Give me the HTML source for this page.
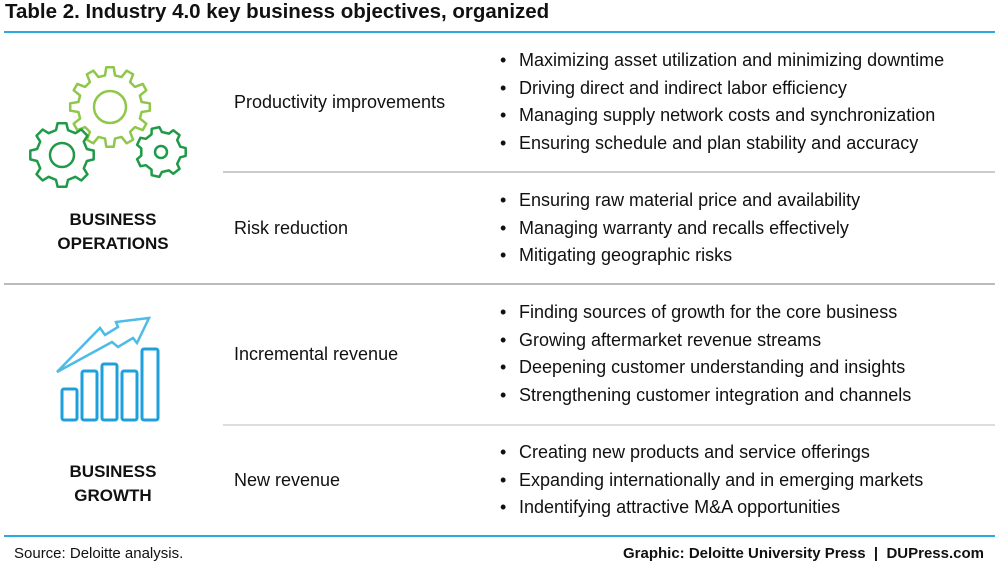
<!DOCTYPE html>
<html><head><meta charset="utf-8"><style>
body{margin:0;width:1000px;height:573px;background:#fff;font-family:"Liberation Sans",sans-serif;color:#111;position:relative;overflow:hidden}
.t{position:absolute;white-space:nowrap}
.title{left:5px;top:0px;font-size:20.5px;font-weight:bold}
.ln{position:absolute;height:2px}
.lab{font-size:18px}
.cat{font-size:17px;text-align:center;width:200px;left:13px;line-height:24px;font-weight:bold}
ul{position:absolute;left:500px;margin:0;padding:0;list-style:none;font-size:18px;line-height:27.5px}
li:before{content:"•";display:inline-block;width:19px}
.foot{font-size:15px;top:545px}
</style></head><body>
<div class="t title">Table 2. Industry 4.0 key business objectives, organized</div>
<div class="ln" style="left:4px;width:991px;top:31px;background:#2aa8e0"></div>
<div class="ln" style="left:223px;width:772px;top:171px;background:#ccc"></div>
<div class="ln" style="left:4px;width:991px;top:283px;background:#bbb"></div>
<div class="ln" style="left:223px;width:772px;top:424px;background:#ddd"></div>
<div class="ln" style="left:4px;width:991px;top:535px;background:#2aa8e0"></div>

<svg id="gears" style="position:absolute;left:0;top:0" width="230" height="200"></svg>
<svg style="position:absolute;left:0;top:290" width="230" height="140">
<polygon points="57,82 100,38 105,45 118,37 116,32 149,28 137,53 133,48 118,57 112,52" fill="none" stroke="#4dbbe8" stroke-width="2.5" stroke-linejoin="miter"/>
<g fill="none" stroke="#1ea0dc" stroke-width="3">
<rect x="62" y="99" width="15" height="31" rx="2"/><rect x="82" y="81" width="15" height="49" rx="2"/><rect x="102" y="74" width="15" height="56" rx="2"/><rect x="122" y="81" width="15" height="49" rx="2"/><rect x="142" y="59" width="16" height="71" rx="2"/></g></svg>

<div class="t cat" style="top:208px">BUSINESS<br>OPERATIONS</div>
<div class="t cat" style="top:460px">BUSINESS<br>GROWTH</div>

<div class="t lab" style="left:234px;top:92px">Productivity improvements</div>
<div class="t lab" style="left:234px;top:218px">Risk reduction</div>
<div class="t lab" style="left:234px;top:344px">Incremental revenue</div>
<div class="t lab" style="left:234px;top:470px">New revenue</div>

<ul style="top:47px"><li>Maximizing asset utilization and minimizing downtime</li><li>Driving direct and indirect labor efficiency</li><li>Managing supply network costs and synchronization</li><li>Ensuring schedule and plan stability and accuracy</li></ul>
<ul style="top:187px"><li>Ensuring raw material price and availability</li><li>Managing warranty and recalls effectively</li><li>Mitigating geographic risks</li></ul>
<ul style="top:299px"><li>Finding sources of growth for the core business</li><li>Growing aftermarket revenue streams</li><li>Deepening customer understanding and insights</li><li>Strengthening customer integration and channels</li></ul>
<ul style="top:439px"><li>Creating new products and service offerings</li><li>Expanding internationally and in emerging markets</li><li>Indentifying attractive M&amp;A opportunities</li></ul>

<div class="t foot" style="left:14px">Source: Deloitte analysis.</div>
<div class="t foot" style="right:16px;font-weight:bold">Graphic: Deloitte University Press &nbsp;|&nbsp; DUPress.com</div>
<script>
const gearsSvg=document.getElementById('gears');
const gearCx=[110,62,161], gearCy=[107,155,152], gearR=[40,32,25], gearHole=[16,12,6], gearTeeth=[12,8,7], gearCol=['#8fc74a','#1e9a48','#1e9a48'];
for(let g=0;g<3;g++){
 const n=gearTeeth[g],R=gearR[g],r=R*0.8;let d='';
 for(let i=0;i<n;i++){const a=i*2*Math.PI/n,w=Math.PI/n;
  const pts=[[r,a-w*0.6],[R,a-w*0.35],[R,a+w*0.35],[r,a+w*0.6]];
  pts.forEach((p,j)=>{d+=(i==0&&j==0?'M':'L')+(gearCx[g]+p[0]*Math.cos(p[1])).toFixed(1)+','+(gearCy[g]+p[0]*Math.sin(p[1])).toFixed(1)+' ';});}
 d+='Z';
 const p=document.createElementNS('http://www.w3.org/2000/svg','path');
 p.setAttribute('d',d);p.setAttribute('fill','none');p.setAttribute('stroke',gearCol[g]);p.setAttribute('stroke-width','2.5');p.setAttribute('stroke-linejoin','round');
 
 
 gearsSvg.appendChild(p);
 const c=document.createElementNS('http://www.w3.org/2000/svg','circle');
 c.setAttribute('cx',gearCx[g]);c.setAttribute('cy',gearCy[g]);c.setAttribute('r',gearHole[g]);c.setAttribute('fill','none');c.setAttribute('stroke',gearCol[g]);c.setAttribute('stroke-width','2.5');
 
 
 gearsSvg.appendChild(c);
}
</script>
</body></html>
